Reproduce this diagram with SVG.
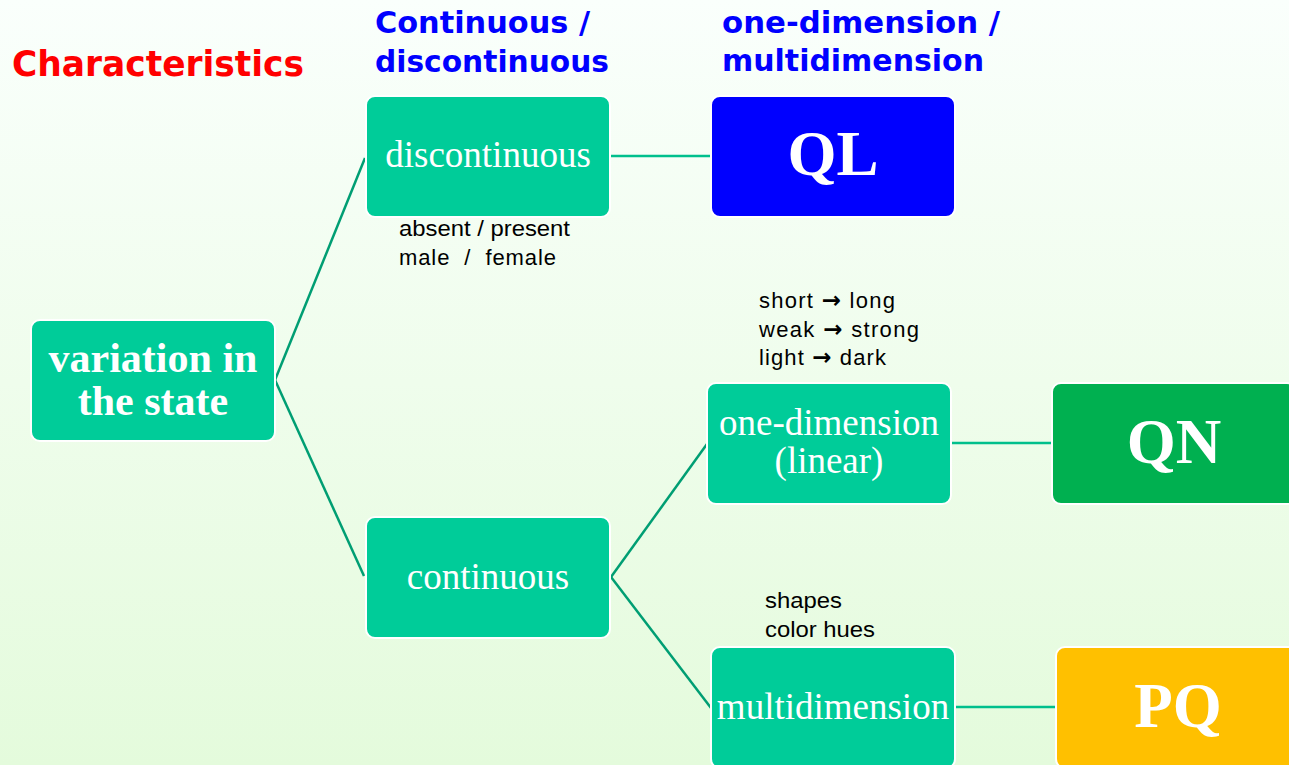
<svg xmlns="http://www.w3.org/2000/svg" width="1289" height="765" viewBox="0 0 1289 765">
<defs>
<linearGradient id="bg" x1="0" y1="0" x2="0" y2="1">
<stop offset="0" stop-color="#fafffc"/>
<stop offset="1" stop-color="#e4fbdc"/>
</linearGradient>
</defs>
<style>
.box{stroke:#ffffff;stroke-width:2}
.teal{fill:#00cc99}
.lbl{font-family:"Liberation Serif","Times New Roman",serif;fill:#ffffff;text-anchor:middle}
.big{font-weight:bold;font-size:63px}
.mid{font-size:37px}
.note{font-family:"Liberation Sans",Arial,sans-serif;font-size:22px;fill:#000000}
.arr{font-family:"DejaVu Sans",sans-serif;font-weight:bold;font-size:23px}
.head{font-family:"DejaVu Sans",Verdana,sans-serif;font-weight:bold}
.diag{stroke:#009e73;stroke-width:2.5;fill:none}
.hor{stroke:#00bf8c;stroke-width:2.5;fill:none}
</style>
<rect x="0" y="0" width="1289" height="765" fill="url(#bg)"/>
<g id="headings">
<text class="head" x="12" y="76" font-size="36" fill="#ff0000" textLength="292" lengthAdjust="spacingAndGlyphs">Characteristics</text>
<text class="head" x="375" y="33" font-size="30" fill="#0000ff" textLength="215" lengthAdjust="spacingAndGlyphs">Continuous /</text>
<text class="head" x="375" y="72" font-size="30" fill="#0000ff" textLength="234" lengthAdjust="spacingAndGlyphs">discontinuous</text>
<text class="head" x="722" y="33" font-size="30" fill="#0000ff" textLength="278" lengthAdjust="spacingAndGlyphs">one-dimension /</text>
<text class="head" x="722" y="71" font-size="30" fill="#0000ff" textLength="262" lengthAdjust="spacingAndGlyphs">multidimension</text>
</g>
<g id="connectors">
<path class="diag" d="M275 380 L365 158"/>
<path class="diag" d="M275 380 L364 576"/>
<path class="diag" d="M611 577 L707 444"/>
<path class="diag" d="M611 577 L711 708"/>
<path class="hor" d="M611 156 L711 156"/>
<path class="hor" d="M951 443 L1052 443"/>
<path class="hor" d="M955 707 L1056 707"/>
</g>
<g id="node-variation">
<rect class="box teal" x="31" y="320" width="244" height="121" rx="9"/>
<text class="lbl" x="153" y="372" font-size="42" font-weight="bold">variation in</text>
<text class="lbl" x="153" y="415" font-size="42" font-weight="bold">the state</text>
</g>
<g id="node-discontinuous">
<rect class="box teal" x="366" y="96" width="244" height="121" rx="9"/>
<text class="lbl mid" x="488" y="167">discontinuous</text>
</g>
<g id="node-QL">
<rect class="box" fill="#0000ff" x="711" y="96" width="244" height="121" rx="9"/>
<text class="lbl big" x="833" y="175">QL</text>
</g>
<g id="node-continuous">
<rect class="box teal" x="366" y="517" width="244" height="121" rx="9"/>
<text class="lbl mid" x="488" y="589">continuous</text>
</g>
<g id="node-onedim">
<rect class="box teal" x="707" y="383" width="244" height="121" rx="9"/>
<text class="lbl mid" x="829" y="435">one-dimension</text>
<text class="lbl mid" x="829" y="473">(linear)</text>
</g>
<g id="node-QN">
<rect class="box" fill="#00b050" x="1052" y="383" width="244" height="121" rx="9"/>
<text class="lbl big" x="1174" y="463">QN</text>
</g>
<g id="node-multidim">
<rect class="box teal" x="711" y="647" width="244" height="121" rx="9"/>
<text class="lbl mid" x="833" y="719">multidimension</text>
</g>
<g id="node-PQ">
<rect class="box" fill="#ffc000" x="1056" y="647" width="244" height="121" rx="9"/>
<text class="lbl big" x="1178" y="727">PQ</text>
</g>
<g id="notes">
<text class="note" x="399" y="236" textLength="171" lengthAdjust="spacingAndGlyphs">absent / present</text>
<text class="note" x="399" y="265" xml:space="preserve" textLength="157">male  /  female</text>
<text class="note" x="759" y="308" textLength="136">short <tspan class="arr">→</tspan> long</text>
<text class="note" x="759" y="337" textLength="160">weak <tspan class="arr">→</tspan> strong</text>
<text class="note" x="759" y="365" textLength="127">light <tspan class="arr">→</tspan> dark</text>
<text class="note" x="765" y="608" textLength="77" lengthAdjust="spacingAndGlyphs">shapes</text>
<text class="note" x="765" y="637" textLength="110" lengthAdjust="spacingAndGlyphs">color hues</text>
</g>
</svg>
